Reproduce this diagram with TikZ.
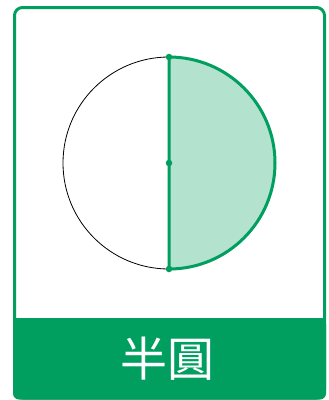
\documentclass[tikz,border=0pt]{standalone}
\usepackage{fontspec}
\usepackage{xcolor}
\usepackage{tikz}
\usetikzlibrary{calc}
\newfontfamily\cjk{Noto Sans CJK TC}
\definecolor{cardgreen}{HTML}{009E5F}
\definecolor{palegreen}{HTML}{B3E2CF}
\tikzset{
  card/.style  ={rounded corners=8pt,draw=cardgreen,line width=3pt,fill=white},
  band/.style  ={fill=cardgreen,draw=none},
  arcline/.style={draw=cardgreen,line width=3pt},
  dot/.style   ={circle,fill=cardgreen,inner sep=0pt,minimum size=6.5pt},
  title/.style ={text=white,font=\cjk\fontsize{47}{50}\selectfont}
}
\begin{document}
\begin{tikzpicture}[x=1pt,y=-1pt]
        \useasboundingbox (0,0) rectangle (329,400);
        \draw[card] (14.5,7.5) rectangle (324.5,398);
        \fill[band,rounded corners=6pt] (13,318) -- (326,318) -- (326,399.5) -- (13,399.5) -- cycle;
        \fill[band] (13,318) rectangle (326,340);
        \coordinate (O) at (169,163);
        \coordinate (top) at (169,57);
        \coordinate (bot) at (169,269);
        \draw[black,line width=0.8pt] (O) circle[radius=106];
        \fill[palegreen] (top) arc[start angle=-90,end angle=90,radius=106] -- cycle;
        \draw[arcline] (top) arc[start angle=-90,end angle=90,radius=106] -- cycle;
        \node[dot] (ptop) at (top) {};
        \node[dot] (pmid) at (O) {};
        \node[dot] (pbot) at (bot) {};
        \node[title] (name) at (168,359) {半圓};
      \end{tikzpicture}
\end{document}
